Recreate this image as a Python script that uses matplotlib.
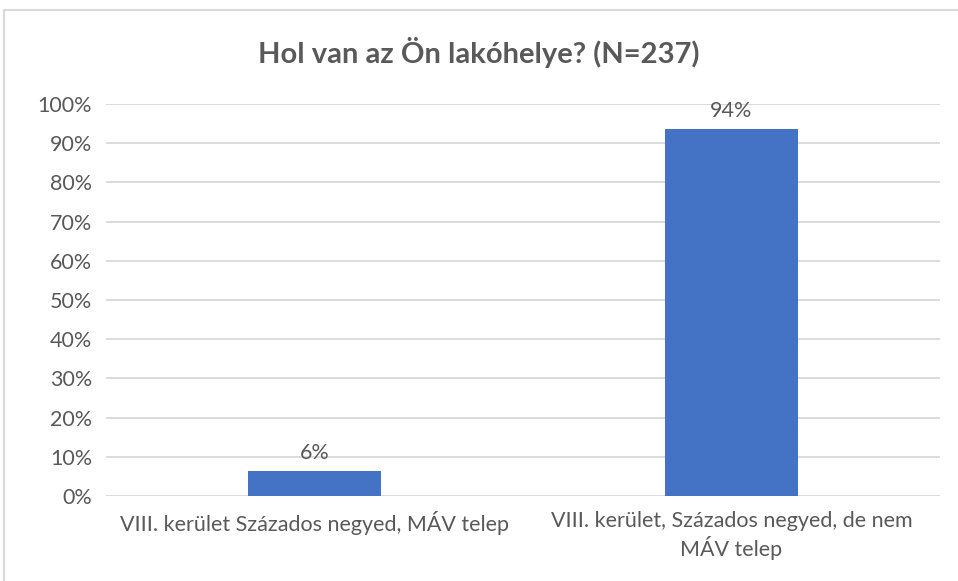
import matplotlib
matplotlib.use("Agg")
import matplotlib.pyplot as plt
from matplotlib.patches import Rectangle
from matplotlib.ticker import PercentFormatter

categories = ["VIII. kerület Százados negyed, MÁV telep",
              "VIII. kerület, Százados negyed, de nem\nMÁV telep"]
values = [0.063, 0.937]
labels = ["6%", "94%"]
yticks = [0, 0.1, 0.2, 0.3, 0.4, 0.5, 0.6, 0.7, 0.8, 0.9, 1.0]

plt.rcParams['font.family'] = ['Lato', 'DejaVu Sans']
txt = '#595959'

fig = plt.figure(figsize=(9.58, 5.81), dpi=100)
fig.patches.append(Rectangle((4/958, -5/581), 960/958, 576/581, transform=fig.transFigure,
                             fill=False, edgecolor='#d9d9d9', linewidth=1.5))
ax = fig.add_axes([106/958, 1-496/581, 834/958, 392/581])

x = range(len(categories))
bars = ax.bar(x, values, width=0.32, color='#4472c4', zorder=3)
for b, lab in zip(bars, labels):
    ax.text(b.get_x() + b.get_width()/2, b.get_height() + 0.02, lab,
            ha='center', va='bottom', fontsize=15.5, color=txt)

ax.set_xlim(-0.5, 1.5)
ax.set_ylim(0, 1)
ax.set_yticks(yticks)
ax.yaxis.set_major_formatter(PercentFormatter(1.0, decimals=0))
ax.set_xticks(list(x))
ax.set_xticklabels(categories, fontsize=15.5, color=txt, linespacing=1.25)
ax.tick_params(axis='y', labelsize=15.5, labelcolor=txt, length=0, pad=10)
ax.tick_params(axis='x', length=0, pad=11)
ax.grid(axis='y', color='#d9d9d9', linewidth=1.3, zorder=0)
for s in ax.spines.values():
    s.set_visible(False)

fig.text(0.5, 1-52/581, "Hol van az Ön lakóhelye? (N=237)", ha='center', va='center',
         fontsize=21, fontweight='bold', color=txt)

fig.savefig("out.png", dpi=100)
